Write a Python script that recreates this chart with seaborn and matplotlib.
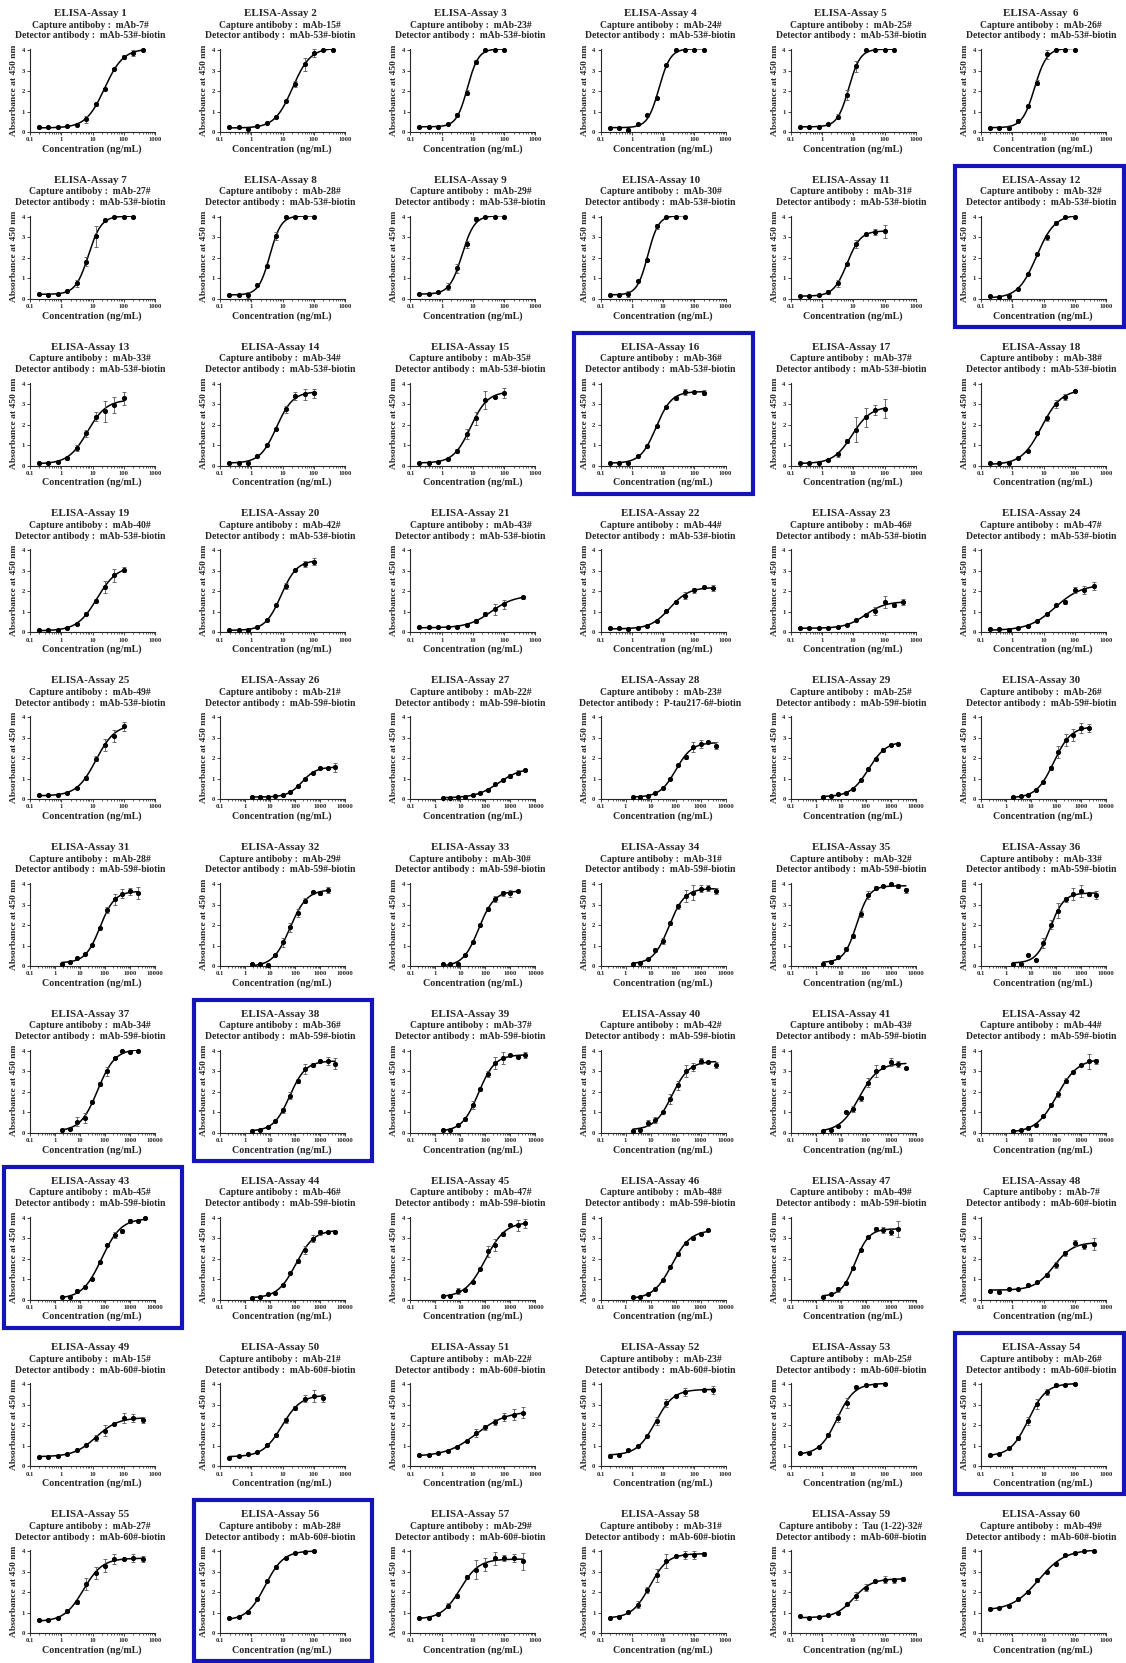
import numpy as np
import matplotlib
matplotlib.use("Agg")
import matplotlib.pyplot as plt
import seaborn as sns
from matplotlib.patches import Rectangle
from matplotlib.ticker import FixedLocator, FixedFormatter, LogLocator, NullFormatter

# two-fold dilution series (ng/mL)
conc_low = [0.195, 0.39, 0.78, 1.56, 3.125, 6.25, 12.5, 25, 50, 100, 200, 400]
conc_high = [1.95, 3.9, 7.8, 15.6, 31.25, 62.5, 125, 250, 500, 1000, 2000, 4000]
high_series = list(range(26, 48))      # assays run on the high series
highlighted = [12, 16, 38, 43, 54, 56]

capture = ["mAb-7#", "mAb-15#", "mAb-23#", "mAb-24#", "mAb-25#", "mAb-26#",
           "mAb-27#", "mAb-28#", "mAb-29#", "mAb-30#", "mAb-31#", "mAb-32#",
           "mAb-33#", "mAb-34#", "mAb-35#", "mAb-36#", "mAb-37#", "mAb-38#",
           "mAb-40#", "mAb-42#", "mAb-43#", "mAb-44#", "mAb-46#", "mAb-47#",
           "mAb-49#", "mAb-21#", "mAb-22#", "mAb-23#", "mAb-25#", "mAb-26#",
           "mAb-28#", "mAb-29#", "mAb-30#", "mAb-31#", "mAb-32#", "mAb-33#",
           "mAb-34#", "mAb-36#", "mAb-37#", "mAb-42#", "mAb-43#", "mAb-44#",
           "mAb-45#", "mAb-46#", "mAb-47#", "mAb-48#", "mAb-49#", "mAb-7#",
           "mAb-15#", "mAb-21#", "mAb-22#", "mAb-23#", "mAb-25#", "mAb-26#",
           "mAb-27#", "mAb-28#", "mAb-29#", "mAb-31#", "Tau (1-22)-32#", "mAb-49#"]
detector = (["mAb-53#-biotin"] * 25 + ["mAb-59#-biotin"] * 2 + ["P-tau217-6#-biotin"]
            + ["mAb-59#-biotin"] * 19 + ["mAb-60#-biotin"] * 13)

nan = np.nan
od = {
    1: [0.23, 0.22, 0.22, 0.27, 0.35, 0.62, 1.35, 2.12, 3.08, 3.65, 3.85, 4.0],
    2: [0.22, 0.22, 0.15, 0.28, 0.42, 0.75, 1.5, 2.35, 3.3, 3.85, 4.0, 4.0],
    3: [0.25, 0.22, 0.25, 0.4, 0.82, 1.92, 3.42, 4.0, 4.0, 4.0],
    4: [0.2, 0.18, 0.1, 0.38, 0.82, 1.65, 3.25, 4.0, 4.0, 4.0, 4.0],
    5: [0.25, 0.22, 0.25, 0.4, 0.75, 1.8, 3.2, 4.0, 4.0, 4.0, 4.0],
    6: [0.2, 0.2, 0.2, 0.55, 1.25, 2.4, 3.8, 4.0, 4.0, 4.0],
    7: [0.22, 0.2, 0.22, 0.4, 0.75, 1.82, 3.05, 3.85, 3.97, 4.0, 4.0],
    8: [0.2, 0.2, 0.2, 0.68, 1.58, 3.05, 4.0, 4.0, 4.0, 4.0],
    9: [0.22, 0.22, 0.32, 0.6, 1.48, 2.65, 3.88, 4.0, 4.0, 4.0],
    10: [0.18, 0.2, 0.22, 0.88, 1.9, 3.55, 4.0, 4.0, 4.0],
    11: [0.12, 0.12, 0.18, 0.35, 0.75, 1.68, 2.68, 3.15, 3.25, 3.3],
    12: [0.12, 0.1, 0.15, 0.5, 1.2, 2.2, 3.0, 3.72, 3.97, 4.0],
    13: [0.15, 0.15, 0.2, 0.35, 0.85, 1.58, 2.38, 2.65, 2.95, 3.28],
    14: [0.15, 0.15, 0.15, 0.48, 1.02, 1.78, 2.75, 3.38, 3.48, 3.52],
    15: [0.15, 0.15, 0.2, 0.32, 0.72, 1.55, 2.3, 3.2, 3.35, 3.55],
    16: [0.15, 0.15, 0.15, 0.48, 0.95, 1.92, 2.88, 3.32, 3.6, 3.6, 3.55],
    17: [0.15, 0.15, 0.15, 0.25, 0.55, 1.2, 1.75, 2.35, 2.7, 2.78],
    18: [0.12, 0.12, 0.15, 0.35, 0.72, 1.58, 2.3, 3.0, 3.35, 3.65],
    19: [0.12, 0.12, 0.12, 0.2, 0.4, 0.92, 1.55, 2.2, 2.78, 3.05],
    20: [0.12, 0.12, 0.12, 0.25, 0.6, 1.32, 2.28, 3.05, 3.35, 3.45],
    21: [0.25, 0.25, 0.24, 0.24, 0.28, 0.38, 0.55, 0.88, 1.12, 1.38, nan, 1.72],
    22: [0.22, 0.2, 0.15, 0.22, 0.32, 0.58, 1.02, 1.5, 1.8, 2.05, 2.2, 2.15],
    23: [0.22, 0.22, 0.2, 0.22, 0.25, 0.38, 0.62, 0.85, 1.05, 1.5, 1.35, 1.48],
    24: [0.15, 0.15, 0.12, 0.22, 0.3, 0.55, 0.92, 1.32, 1.48, 2.05, 2.05, 2.25],
    25: [0.2, 0.2, 0.22, 0.3, 0.55, 1.05, 1.98, 2.65, 3.1, 3.55],
    26: [0.1, 0.1, 0.12, 0.15, 0.2, 0.35, 0.62, 0.98, 1.3, 1.5, 1.52, 1.55],
    27: [0.08, 0.08, 0.12, 0.12, 0.2, 0.3, 0.45, 0.72, 0.95, 1.12, 1.3, 1.42],
    28: [0.1, 0.12, 0.18, 0.3, 0.55, 1.0, 1.65, 2.05, 2.55, 2.7, 2.8, 2.62],
    29: [0.12, 0.15, 0.25, 0.28, 0.52, 0.92, 1.45, 1.98, 2.4, 2.65, 2.7],
    30: [0.1, 0.15, 0.22, 0.45, 0.85, 1.52, 2.32, 2.88, 3.12, 3.48, 3.48],
    31: [0.12, 0.2, 0.38, 0.58, 1.02, 1.85, 2.72, 3.25, 3.52, 3.65, 3.55],
    32: [0.1, 0.12, 0.05, 0.52, 1.15, 1.88, 2.58, 3.18, 3.6, 3.55, 3.7],
    33: [0.1, 0.08, 0.12, 0.55, 1.18, 1.98, 2.78, 3.25, 3.55, 3.55, 3.68],
    34: [0.12, 0.15, 0.32, 0.78, 1.22, 2.08, 2.92, 3.42, 3.58, 3.78, 3.82, 3.65],
    35: [0.12, 0.18, 0.45, 0.82, 1.48, 2.55, 3.45, 3.82, 3.9, 4.0, 3.9, 3.7],
    36: [0.1, 0.12, 0.55, 0.3, 1.12, 2.02, 2.7, 3.25, 3.5, 3.65, 3.52, 3.45],
    37: [0.12, 0.2, 0.55, 0.72, 1.52, 2.38, 3.0, 3.65, 4.0, 3.92, 4.0],
    38: [0.1, 0.15, 0.28, 0.58, 1.1, 1.82, 2.52, 3.12, 3.32, 3.52, 3.5, 3.38],
    39: [0.12, 0.15, 0.4, 0.65, 1.35, 2.12, 2.85, 3.42, 3.65, 3.8, 3.72, 3.78],
    40: [0.1, 0.15, 0.48, 0.62, 1.02, 1.65, 2.32, 3.02, 3.2, 3.52, 3.45, 3.32],
    41: [0.1, 0.15, 0.32, 1.02, 1.15, 1.68, 2.45, 3.02, 3.2, 3.45, 3.35, 3.15],
    42: [0.1, 0.12, 0.22, 0.4, 0.8, 1.38, 1.88, 2.55, 2.98, 3.3, 3.48, 3.48],
    43: [0.12, 0.15, 0.42, 0.6, 1.02, 1.85, 2.68, 3.15, 3.35, 3.85, 3.85, 3.97],
    44: [0.1, 0.15, 0.25, 0.32, 0.72, 1.28, 1.88, 2.42, 2.98, 3.28, 3.3, 3.28],
    45: [0.18, 0.2, 0.42, 0.48, 0.88, 1.48, 2.35, 2.68, 3.18, 3.62, 3.62, 3.72],
    46: [0.12, 0.15, 0.25, 0.52, 0.95, 1.6, 2.22, 2.78, 3.02, 3.22, 3.38],
    47: [0.12, 0.25, 0.5, 0.82, 1.55, 2.4, 3.05, 3.45, 3.38, 3.32, 3.45],
    48: [0.42, 0.38, 0.52, 0.52, 0.7, 0.85, 1.2, 1.68, 2.25, 2.78, 2.6, 2.7],
    49: [0.48, 0.48, 0.52, 0.6, 0.82, 1.02, 1.4, 1.75, 2.05, 2.38, 2.35, 2.25],
    50: [0.42, 0.5, 0.6, 0.7, 1.02, 1.52, 2.25, 2.85, 3.3, 3.45, 3.35],
    51: [0.58, 0.55, 0.65, 0.75, 0.95, 1.25, 1.62, 1.9, 2.15, 2.4, 2.52, 2.62],
    52: [0.5, 0.58, 0.78, 1.0, 1.48, 2.22, 3.08, 3.45, 3.62, nan, 3.75, 3.72],
    53: [0.65, 0.65, 0.95, 1.55, 2.38, 3.1, 3.85, 3.95, 3.97, 4.0],
    54: [0.55, 0.62, 0.88, 1.38, 2.22, 3.05, 3.65, 3.97, 3.97, 4.0],
    55: [0.65, 0.62, 0.75, 1.1, 1.52, 2.4, 2.95, 3.3, 3.62, 3.62, 3.68, 3.6],
    56: [0.72, 0.8, 1.02, 1.65, 2.55, 3.22, 3.65, 3.92, 3.98, 4.0],
    57: [0.75, 0.75, 0.95, 1.35, 1.8, 2.75, 3.1, 3.35, 3.65, 3.65, 3.65, 3.5],
    58: [0.75, 0.78, 1.05, 1.4, 2.1, 2.82, 3.52, 3.75, 3.82, 3.82, 3.85],
    59: [0.82, 0.72, 0.78, 0.88, 1.0, 1.42, 1.82, 2.22, 2.55, 2.62, 2.58, 2.65],
    60: [1.2, 1.25, 1.35, 1.65, 2.0, 2.6, 3.0, 3.4, 3.82, 3.9, 4.0, 4.0],
}
sd = {
    1: [.02, .02, .02, .02, .03, .18, .08, .05, .03, .1, .15, .02],
    2: [.02, .02, .02, .02, .03, .03, .06, .15, .3, .2, .02, .02],
    3: [.02, .02, .02, .03, .1, .12, .08, .02, .02, .02],
    4: [.02, .02, .1, .03, .05, .03, .03, .02, .02, .02, .02],
    5: [.02, .02, .02, .03, .12, .25, .28, .02, .02, .02, .02],
    6: [.02, .02, .08, .08, .05, .12, .22, .02, .02, .02],
    7: [.02, .02, .02, .03, .15, .2, .5, .03, .02, .02, .02],
    8: [.02, .02, .15, .05, .08, .2, .02, .02, .02, .02],
    9: [.02, .02, .03, .15, .2, .15, .1, .02, .02, .02],
    10: [.02, .02, .15, .05, .05, .12, .02, .02, .02],
    11: [.02, .02, .02, .1, .18, .05, .2, .08, .15, .32],
    12: [.02, .02, .1, .03, .03, .05, .12, .08, .02, .02],
    13: [.02, .02, .02, .08, .15, .18, .22, .5, .4, .3],
    14: [.02, .02, .08, .03, .03, .05, .18, .2, .28, .2],
    15: [.02, .02, .02, .05, .1, .25, .3, .45, .05, .25],
    16: [.02, .02, .02, .03, .03, .05, .05, .1, .15, .03, .12],
    17: [.02, .02, .02, .03, .12, .12, .62, .45, .25, .45],
    18: [.02, .02, .02, .03, .05, .05, .1, .18, .15, .03],
    19: [.02, .02, .02, .02, .03, .08, .08, .3, .3, .12],
    20: [.02, .02, .02, .02, .03, .03, .15, .05, .15, .18],
    21: [.02, .02, .02, .02, .02, .03, .08, .1, .25, .22, 0, .08],
    22: [.02, .02, .02, .02, .02, .03, .03, .05, .15, .12, .03, .15],
    23: [.02, .02, .02, .02, .02, .03, .05, .05, .18, .3, .1, .15],
    24: [.02, .02, .02, .02, .02, .03, .05, .05, .08, .15, .2, .2],
    25: [.02, .02, .02, .02, .05, .1, .12, .3, .3, .2],
    26: [.02, .02, .02, .02, .02, .03, .03, .05, .05, .05, .05, .22],
    27: [.02, .02, .02, .02, .02, .02, .03, .05, .05, .1, .12, .05],
    28: [.02, .02, .02, .02, .03, .05, .05, .1, .25, .2, .05, .18],
    29: [.02, .02, .02, .02, .02, .03, .05, .05, .08, .05, .03],
    30: [.02, .02, .02, .03, .05, .1, .3, .3, .3, .25, .2],
    31: [.02, .02, .05, .03, .05, .05, .15, .25, .22, .18, .3],
    32: [.02, .02, .02, .05, .2, .2, .2, .12, .05, .1, .15],
    33: [.02, .02, .02, .03, .05, .05, .1, .15, .12, .18, .03],
    34: [.02, .02, .02, .1, .15, .08, .12, .3, .35, .15, .15, .15],
    35: [.02, .02, .05, .1, .1, .15, .2, .08, .05, .03, .08, .12],
    36: [.02, .02, .03, .02, .25, .22, .35, .12, .3, .28, .1, .2],
    37: [.02, .02, .2, .25, .08, .08, .22, .05, .05, .03, .03],
    38: [.02, .02, .02, .03, .12, .18, .1, .25, .1, .05, .2, .25],
    39: [.02, .02, .05, .05, .2, .08, .15, .3, .3, .03, .05, .15],
    40: [.02, .02, .15, .15, .05, .25, .22, .3, .2, .15, .03, .15],
    41: [.02, .02, .05, .02, .15, .12, .2, .3, .03, .2, .15, .03],
    42: [.02, .02, .02, .02, .03, .05, .15, .1, .03, .05, .35, .1],
    43: [.02, .02, .12, .03, .03, .03, .05, .15, .08, .1, .03, .03],
    44: [.02, .02, .02, .02, .03, .03, .1, .2, .15, .12, .03, .05],
    45: [.02, .02, .15, .05, .03, .03, .25, .3, .1, .05, .28, .22],
    46: [.02, .02, .02, .02, .03, .03, .1, .05, .1, .08, .03],
    47: [.02, .02, .12, .05, .03, .03, .03, .08, .15, .18, .38],
    48: [.02, .02, .03, .03, .05, .03, .1, .15, .12, .15, .12, .3],
    49: [.02, .02, .02, .02, .03, .03, .15, .25, .05, .25, .2, .15],
    50: [.02, .02, .02, .02, .03, .08, .12, .08, .18, .3, .2],
    51: [.02, .02, .02, .02, .03, .05, .2, .1, .15, .2, .28, .28],
    52: [.1, .03, .05, .03, .05, .2, .2, .03, .2, 0, .03, .2],
    53: [.03, .05, .03, .08, .2, .25, .08, .03, .03, .02],
    54: [.03, .03, .03, .1, .2, .25, .15, .05, .02, .02],
    55: [.03, .03, .03, .08, .1, .3, .3, .3, .25, .03, .2, .15],
    56: [.03, .03, .08, .03, .05, .1, .05, .03, .02, .02],
    57: [.03, .03, .03, .1, .1, .1, .45, .3, .3, .15, .2, .4],
    58: [.03, .03, .05, .15, .15, .3, .35, .03, .2, .2, .1],
    59: [.03, .03, .03, .03, .03, .05, .2, .18, .03, .15, .12, .08],
    60: [.08, .03, .03, .03, .03, .08, .05, .05, .03, .03, .02, .02],
}


def fit_4pl(x, y):
    # four-parameter logistic, grid over EC50/Hill, least squares for bottom/top
    lx = np.log10(x)
    c = np.linspace(lx.min() - 0.5, lx.max() + 0.5, 300)
    h = np.linspace(0.4, 3.0, 80)
    C, Hh = np.meshgrid(c, h, indexing="ij")
    s = 1.0 / (1.0 + 10 ** (Hh[..., None] * (C[..., None] - lx)))
    u = 1 - s
    a11, a12, a22 = (u * u).sum(-1), (u * s).sum(-1), (s * s).sum(-1)
    b1, b2 = (u * y).sum(-1), (s * y).sum(-1)
    det = a11 * a22 - a12 ** 2
    bot = (a22 * b1 - a12 * b2) / det
    top = (a11 * b2 - a12 * b1) / det
    sse = ((bot[..., None] * u + top[..., None] * s - y) ** 2).sum(-1)
    i = np.unravel_index(np.nanargmin(sse), sse.shape)
    return bot[i], top[i], C[i], Hh[i]


sns.set_theme(style="ticks")
plt.rcParams["font.family"] = ["Liberation Serif", "DejaVu Serif"]
plt.rcParams["font.weight"] = "bold"

W, H = 1126, 1663
fig = plt.figure(figsize=(W / 100, H / 100), dpi=100)
pw, ph = 190.2, 166.8   # panel pitch in pixels (last column runs off the edge)

for n in range(1, 61):
    r, c = divmod(n - 1, 6)
    x0, y0 = c * pw, r * ph
    high = n in high_series
    xs = np.array(conc_high if high else conc_low)
    y = np.array(od[n])
    e = np.array(sd[n])
    xs = xs[:len(y)]
    ok = ~np.isnan(y)

    ax = fig.add_axes([(x0 + 30) / W, 1 - (y0 + 132) / H, 125 / W, 83 / H])
    bot, top, lc, hill = fit_4pl(xs[ok], y[ok])
    xf = np.logspace(np.log10(xs[ok][0]), np.log10(xs[ok][-1]), 200)
    yf = bot + (top - bot) / (1 + 10 ** (hill * (lc - np.log10(xf))))
    sns.lineplot(x=xf, y=yf, ax=ax, color="black", lw=1.1)
    ax.errorbar(xs[ok], y[ok], yerr=e[ok], fmt="o", ms=2.7, color="black",
                ecolor="#555555", elinewidth=0.6, capsize=1.4, capthick=0.6,
                clip_on=False, zorder=3)

    ax.set_xscale("log")
    xmax = 10000 if high else 1000
    ax.set_xlim(0.1, xmax)
    ax.set_ylim(0, 4.05)
    decades = [0.1, 1, 10, 100, 1000] + ([10000] if high else [])
    ax.xaxis.set_major_locator(FixedLocator(decades))
    ax.xaxis.set_major_formatter(FixedFormatter([f"{d:g}" for d in decades]))
    ax.xaxis.set_minor_locator(LogLocator(base=10, subs=np.arange(2, 10)))
    ax.xaxis.set_minor_formatter(NullFormatter())
    ax.set_yticks([0, 1, 2, 3, 4])
    ax.tick_params(axis="both", which="major", labelsize=4.8, length=2.2,
                   width=0.6, pad=1.5, direction="out")
    ax.tick_params(axis="x", which="minor", length=1.2, width=0.5)
    for lab in ax.get_xticklabels() + ax.get_yticklabels():
        lab.set_fontweight("bold")
    ax.set_xlabel("")
    ax.set_ylabel("")
    sns.despine(ax=ax)
    for sp in ax.spines.values():
        sp.set_linewidth(0.8)

    cx = x0 + 90
    title = "ELISA-Assay  6" if n == 6 else f"ELISA-Assay {n}"
    fig.text(cx / W, 1 - (y0 + 13.5) / H, title, ha="center", va="center",
             fontsize=7.9, fontweight="bold")
    fig.text(cx / W, 1 - (y0 + 25) / H, f"Capture antiboby :  {capture[n - 1]}",
             ha="center", va="center", fontsize=6.9, fontweight="bold")
    fig.text(cx / W, 1 - (y0 + 36) / H, f"Detector antibody :  {detector[n - 1]}",
             ha="center", va="center", fontsize=6.9, fontweight="bold")
    fig.text((x0 + 92) / W, 1 - (y0 + 149) / H, "Concentration (ng/mL)",
             ha="center", va="center", fontsize=7.2, fontweight="bold")
    fig.text((x0 + 14) / W, 1 - (y0 + 90) / H, "Absorbance at 450 nm",
             ha="center", va="center", rotation=90, fontsize=6.8, fontweight="bold")

    if n in highlighted:
        left = max(x0 + 3.5, 2)
        right = min(x0 + 182, W - 2)
        top_px = max(y0 - 1, 2)
        bottom_px = min(y0 + 160, H - 2)
        fig.patches.append(Rectangle((left / W, 1 - bottom_px / H), (right - left) / W,
                                     (bottom_px - top_px) / H, transform=fig.transFigure,
                                     fill=False, edgecolor="#1414b8", lw=3))

fig.savefig("out.png", dpi=100)
